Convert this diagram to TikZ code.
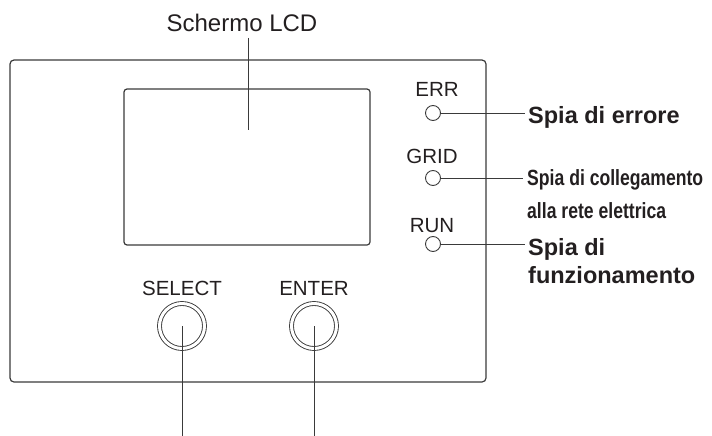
\documentclass[tikz,border=0pt]{standalone}
\usepackage{fontspec}
\setmainfont{Liberation Sans}
\newfontfamily\narrowfont[FakeStretch=0.8]{Liberation Sans}
\usetikzlibrary{positioning}

\definecolor{ink}{HTML}{231F20}
\definecolor{wire}{HTML}{3A3A3A}

\begin{document}
\begin{tikzpicture}[
    x=1pt, y=-1pt,
    panel/.style={
        rectangle,
        draw=wire,
        line width=1.2pt,
        inner sep=0pt
    },
    led/.style={
        circle,
        draw=wire,
        line width=0.9pt,
        minimum size=15pt,
        inner sep=0pt
    },
    knob/.style={
        circle,
        draw=wire,
        double=white,
        double distance=3pt,
        line width=0.9pt,
        minimum size=45pt,
        inner sep=0pt
    },
    tag/.style={
        text=ink,
        inner sep=0pt,
        anchor=base,
        font=\fontsize{20.5}{22}\selectfont
    },
    callout/.style={
        text=ink,
        inner sep=0pt,
        anchor=base west,
        align=left,
        font=\bfseries\fontsize{23.5}{28}\selectfont
    },
    lead/.style={
        draw=wire,
        line width=1pt
    }
]
\useasboundingbox (0,0) rectangle (712,436);

% housing and screen
\node[panel, rounded corners=4pt, minimum width=476pt, minimum height=322pt] (housing) at (248,221) {};
\node[panel, rounded corners=3pt, minimum width=246pt, minimum height=156pt] (lcd) at (247,167) {};

\node[tag, font=\fontsize{24}{26}\selectfont] (lcdtag) at (242,32) {Schermo LCD};
\coordinate (lcdtop) at (248,38);
\coordinate (lcdpoint) at (248,130);
\draw[lead] (lcdtop) -- (lcdpoint);

% status lights
\node[led] (errled) at (433,113) {};
\node[led] (gridled) at (433,178) {};
\node[led] (runled) at (433,244) {};

\node[tag] (errtag) at (437,96) {ERR};
\node[tag] (gridtag) at (432,163) {GRID};
\node[tag] (runtag) at (432,232) {RUN};

\coordinate (errend) at (525,113);
\coordinate (gridend) at (523,178);
\coordinate (runend) at (525,244);
\draw[lead] (errled) -- (errend);
\draw[lead] (gridled) -- (gridend);
\draw[lead] (runled) -- (runend);

% multi-line callouts sit on their last baseline
\node[callout] (errcall) at (528,123) {Spia di errore};
\node[callout, font=\narrowfont\bfseries\fontsize{22}{33}\selectfont] (gridcall) at (527,218) {Spia di collegamento\\alla rete elettrica};
\node[callout] (runcall) at (528,283) {Spia di\\funzionamento};

% buttons
\node[knob] (selbtn) at (182,326) {};
\node[knob] (entbtn) at (314,326) {};
\node[tag] (seltag) at (182,295) {SELECT};
\node[tag] (enttag) at (314,295) {ENTER};

\coordinate (selfoot) at (182,436);
\coordinate (entfoot) at (314,436);
\draw[lead] (selbtn.center) -- (selfoot);
\draw[lead] (entbtn.center) -- (entfoot);

\end{tikzpicture}
\end{document}
